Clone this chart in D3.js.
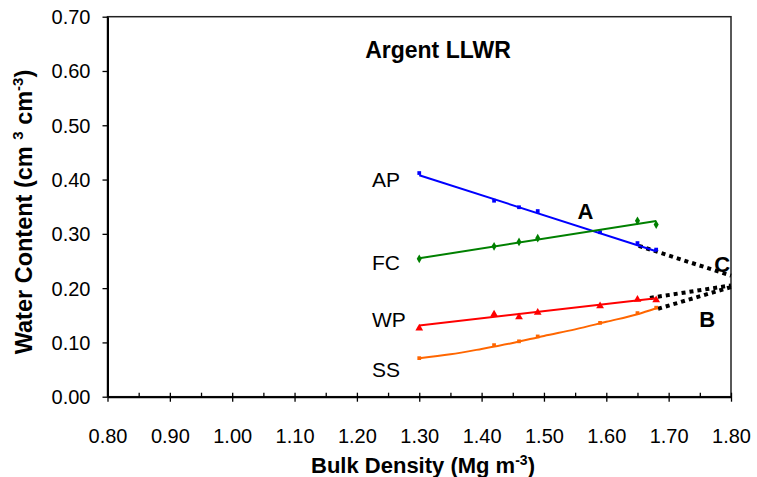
<!DOCTYPE html>
<html>
<head>
<meta charset="utf-8">
<script src="https://cdn.jsdelivr.net/npm/d3@7"></script>
<style>
  html, body { margin: 0; padding: 0; background: #fff; }
  svg { display: block; font-family: "Liberation Sans", Arial, sans-serif; }
</style>
</head>
<body>
<svg id="chart" width="757" height="477"></svg>
<script>
// Measured water contents (cm3 cm-3) against bulk density (Mg m-3)
const densities = [1.30, 1.42, 1.46, 1.49, 1.59, 1.65, 1.68];
const apValues = [0.412, 0.361, 0.349, 0.342, 0.303, 0.283, 0.271];
const fcDensities = [1.30, 1.42, 1.46, 1.49, 1.65, 1.68];
const fcValues = [0.254, 0.277, 0.285, 0.292, 0.324, 0.317];
const wpValues = [0.126, 0.152, 0.147, 0.155, 0.167, 0.179, 0.178];
const ssValues = [0.071, 0.095, 0.102, 0.111, 0.136, 0.154, 0.164];

// Fitted trend lines (end points) and the fitted SS curve
const apFit = [[1.30, 0.408], [1.68, 0.268]];
const fcFit = [[1.30, 0.255], [1.68, 0.3235]];
const wpFit = [[1.30, 0.131], [1.68, 0.1815]];
const ssFit = [[1.30, 0.071], [1.35, 0.078], [1.40, 0.088], [1.45, 0.099], [1.50, 0.112],
               [1.55, 0.124], [1.60, 0.138], [1.65, 0.152], [1.68, 0.163]];

// Extrapolated limits towards the critical densities
const limitC = [[1.652, 0.278], [1.80, 0.223]];
const limitBUpper = [[1.67, 0.182], [1.80, 0.205]];
const limitBLower = [[1.683, 0.162], [1.80, 0.202]];

const xTicks = [0.80, 0.90, 1.00, 1.10, 1.20, 1.30, 1.40, 1.50, 1.60, 1.70, 1.80];
const xMinorTicks = [0.85, 0.95, 1.05, 1.15, 1.25, 1.35, 1.45, 1.55, 1.65, 1.75];
const yTicks = [0.00, 0.10, 0.20, 0.30, 0.40, 0.50, 0.60, 0.70];

const svg = d3.select("#chart");
const x = d3.scaleLinear().domain([0.8, 1.8]).range([107.5, 731]);
const y = d3.scaleLinear().domain([0, 0.7]).range([396.7, 16.7]);
const fmt = d3.format(".2f");

// plot frame
svg.append("rect")
  .attr("x", x(0.8)).attr("y", y(0.7))
  .attr("width", x(1.8) - x(0.8)).attr("height", y(0) - y(0.7))
  .attr("fill", "none").attr("stroke", "#222").attr("stroke-width", 1.5);

// x axis
const xAxis = svg.append("g").attr("transform", `translate(0,${y(0)})`)
  .call(d3.axisBottom(x).tickValues(xTicks).tickFormat(fmt).tickSizeOuter(0).tickSizeInner(5));
xAxis.select(".domain").attr("stroke", "#000").attr("stroke-width", 2);
xAxis.selectAll(".tick line").attr("y1", -4).attr("y2", 5).attr("stroke-width", 1.3);
xAxis.selectAll(".tick text").attr("y", 46).attr("dy", 0).attr("font-size", 20).attr("fill", "#000")
  .attr("font-family", "Liberation Sans, Arial, sans-serif");
svg.append("g").attr("transform", `translate(0,${y(0)})`)
  .call(d3.axisBottom(x).tickValues(xMinorTicks).tickFormat("").tickSizeOuter(0).tickSizeInner(-4))
  .call(g => g.select(".domain").remove())
  .selectAll("line").attr("stroke-width", 1.3);

// y axis
const yAxis = svg.append("g").attr("transform", `translate(${x(0.8)},0)`)
  .call(d3.axisLeft(y).tickValues(yTicks).tickFormat(fmt).tickSizeOuter(0).tickSizeInner(5));
yAxis.select(".domain").attr("stroke", "#000").attr("stroke-width", 2);
yAxis.selectAll(".tick line").attr("stroke-width", 1.3);
yAxis.selectAll(".tick text").attr("x", -17).attr("dy", "0.35em").attr("font-size", 20).attr("fill", "#000")
  .attr("font-family", "Liberation Sans, Arial, sans-serif");

// axis titles
const xTitle = svg.append("text").attr("x", 423).attr("y", 473).attr("text-anchor", "middle")
  .attr("font-size", 22).attr("font-weight", "bold");
xTitle.append("tspan").text("Bulk Density (Mg m");
xTitle.append("tspan").attr("font-size", 14).attr("dy", -8).text("-3");
xTitle.append("tspan").attr("dy", 8).text(")");

const yTitle = svg.append("text").attr("transform", "translate(32,212) rotate(-90)")
  .attr("text-anchor", "middle").attr("font-size", 23.5).attr("font-weight", "bold");
yTitle.append("tspan").text("Water Content (cm ");
yTitle.append("tspan").attr("font-size", 15).attr("dy", -9).text("3");
yTitle.append("tspan").attr("dy", 9).text(" cm");
yTitle.append("tspan").attr("font-size", 15).attr("dy", -9).text("-3");
yTitle.append("tspan").attr("dy", 9).text(")");

// chart title
svg.append("text").attr("x", 438).attr("y", 58).attr("text-anchor", "middle")
  .attr("font-size", 23).attr("font-weight", "bold").text("Argent LLWR");

const line = d3.line().x(d => x(d[0])).y(d => y(d[1]));

// limit lines (dotted)
[limitC, limitBUpper, limitBLower].forEach(seg => {
  svg.append("path").attr("d", line(seg)).attr("fill", "none")
    .attr("stroke", "#000").attr("stroke-width", 4).attr("stroke-dasharray", "4,4");
});

// fitted lines and measured points
const series = [
  { fit: apFit, xs: densities, ys: apValues, color: "#0000ff", symbol: d3.symbolSquare, size: 14, curve: d3.curveLinear },
  { fit: fcFit, xs: fcDensities, ys: fcValues, color: "#008000", symbol: d3.symbolDiamond, size: 22, curve: d3.curveLinear },
  { fit: wpFit, xs: densities, ys: wpValues, color: "#ff0000", symbol: d3.symbolTriangle, size: 26, curve: d3.curveLinear },
  { fit: ssFit, xs: densities, ys: ssValues, color: "#ff6600", symbol: d3.symbolSquare, size: 14, curve: d3.curveMonotoneX }
];

series.forEach(s => {
  svg.append("path").attr("d", line.curve(s.curve)(s.fit)).attr("fill", "none")
    .attr("stroke", s.color).attr("stroke-width", 2);
  svg.append("g").selectAll("path").data(s.xs.map((d, i) => [d, s.ys[i]])).join("path")
    .attr("transform", d => `translate(${x(d[0])},${y(d[1])})`)
    .attr("d", d3.symbol().type(s.symbol).size(s.size))
    .attr("fill", s.color);
});

// series labels
const labels = [["AP", 0.387], ["FC", 0.2334], ["WP", 0.129], ["SS", 0.0368]];
labels.forEach(([t, v]) => {
  svg.append("text").attr("x", 372).attr("y", y(v)).attr("font-size", 21).text(t);
});

// point labels
[["A", 1.554, 0.327], ["C", 1.773, 0.230], ["B", 1.749, 0.129]].forEach(([t, bx, v]) => {
  svg.append("text").attr("x", x(bx)).attr("y", y(v)).attr("font-size", 22)
    .attr("font-weight", "bold").text(t);
});
</script>
</body>
</html>
